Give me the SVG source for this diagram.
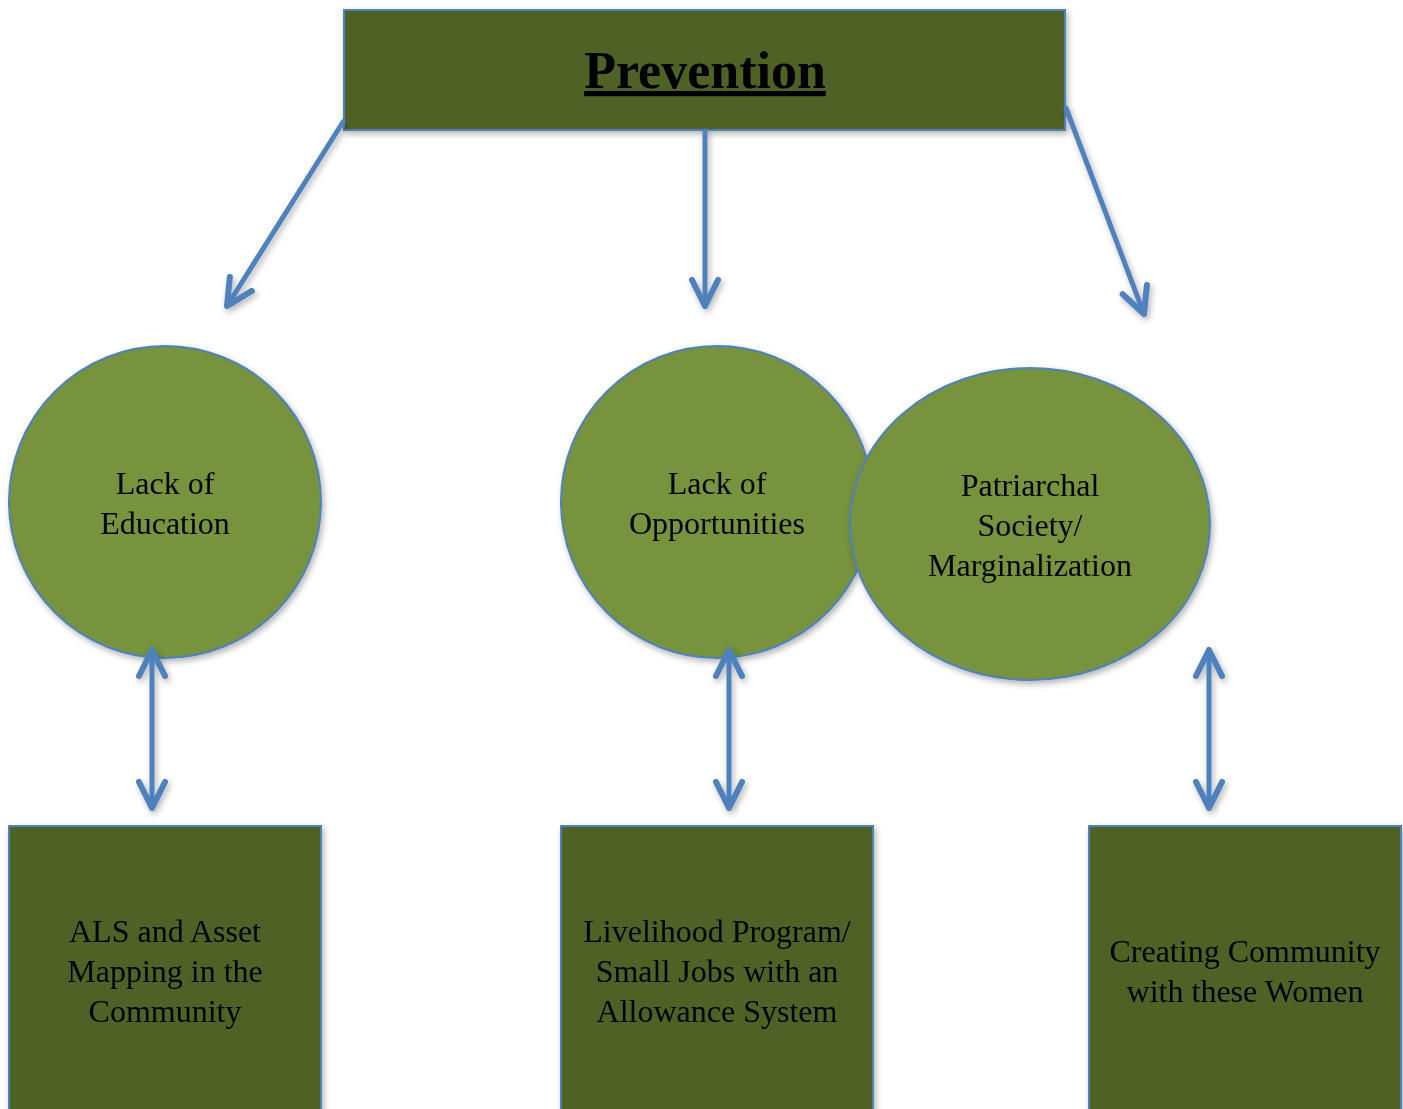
<svg xmlns="http://www.w3.org/2000/svg" width="1403" height="1109" viewBox="0 0 1403 1109">
<defs>
<style>
.box{fill:#4F6228;stroke:#4F81BD;stroke-width:2}
.circ{fill:#77933C;stroke:#4F81BD;stroke-width:2}
.t{font-family:"Liberation Serif","Times New Roman",serif;font-size:32px;fill:#000;text-anchor:middle}
.title{font-family:"Liberation Serif","Times New Roman",serif;font-size:52px;font-weight:bold;fill:#000;text-anchor:middle;text-decoration:underline}
.c{fill:none;stroke:#4F81BD;stroke-width:5;stroke-linecap:round}
</style>
<filter id="sh" x="-10%" y="-10%" width="130%" height="130%">
<feDropShadow dx="2" dy="3" stdDeviation="3" flood-color="#000" flood-opacity="0.3"/>
</filter>
<marker id="ah" markerUnits="userSpaceOnUse" markerWidth="60" markerHeight="60" viewBox="-30 -30 60 60" refX="0" refY="0" orient="auto-start-reverse" overflow="visible">
<path d="M-26,-13 L0,0 L-26,13" fill="none" stroke="#4F81BD" stroke-width="6" stroke-linecap="round" stroke-linejoin="round"/>
</marker>
</defs>
<rect width="1403" height="1109" fill="#fff"/>
<g id="prevention" filter="url(#sh)">
<rect class="box" x="344" y="10" width="721" height="120"/>
<text class="title" x="705" y="88">Prevention</text>
</g>
<g id="lack-education" filter="url(#sh)">
<circle class="circ" cx="165" cy="502" r="156"/>
<text class="t" x="165" y="494">Lack of</text>
<text class="t" x="165" y="534">Education</text>
</g>
<g id="lack-opportunities" filter="url(#sh)">
<circle class="circ" cx="717" cy="502" r="156"/>
<text class="t" x="717" y="494">Lack of</text>
<text class="t" x="717" y="534">Opportunities</text>
</g>
<g id="patriarchal" filter="url(#sh)">
<ellipse class="circ" cx="1030" cy="524" rx="180" ry="156"/>
<text class="t" x="1030" y="496">Patriarchal</text>
<text class="t" x="1030" y="536">Society/</text>
<text class="t" x="1030" y="576">Marginalization</text>
</g>
<g id="als" filter="url(#sh)">
<rect class="box" x="9" y="826" width="312" height="290"/>
<text class="t" x="165" y="942">ALS and Asset</text>
<text class="t" x="165" y="982">Mapping in the</text>
<text class="t" x="165" y="1022">Community</text>
</g>
<g id="livelihood" filter="url(#sh)">
<rect class="box" x="561" y="826" width="312" height="290"/>
<text class="t" x="717" y="942">Livelihood Program/</text>
<text class="t" x="717" y="982">Small Jobs with an</text>
<text class="t" x="717" y="1022">Allowance System</text>
</g>
<g id="community" filter="url(#sh)">
<rect class="box" x="1089" y="826" width="312" height="290"/>
<text class="t" x="1245" y="962">Creating Community</text>
<text class="t" x="1245" y="1002">with these Women</text>
</g>
<g id="connectors" filter="url(#sh)">
<path class="c" d="M343,122 L227,306" marker-end="url(#ah)"/>
<path class="c" d="M705,131 L705,306" marker-end="url(#ah)"/>
<path class="c" d="M1066,108 L1144,314" marker-end="url(#ah)"/>
<path class="c" d="M152,650 L152,808" marker-start="url(#ah)" marker-end="url(#ah)"/>
<path class="c" d="M729,650 L729,808" marker-start="url(#ah)" marker-end="url(#ah)"/>
<path class="c" d="M1209,650 L1209,808" marker-start="url(#ah)" marker-end="url(#ah)"/>
</g>
</svg>
